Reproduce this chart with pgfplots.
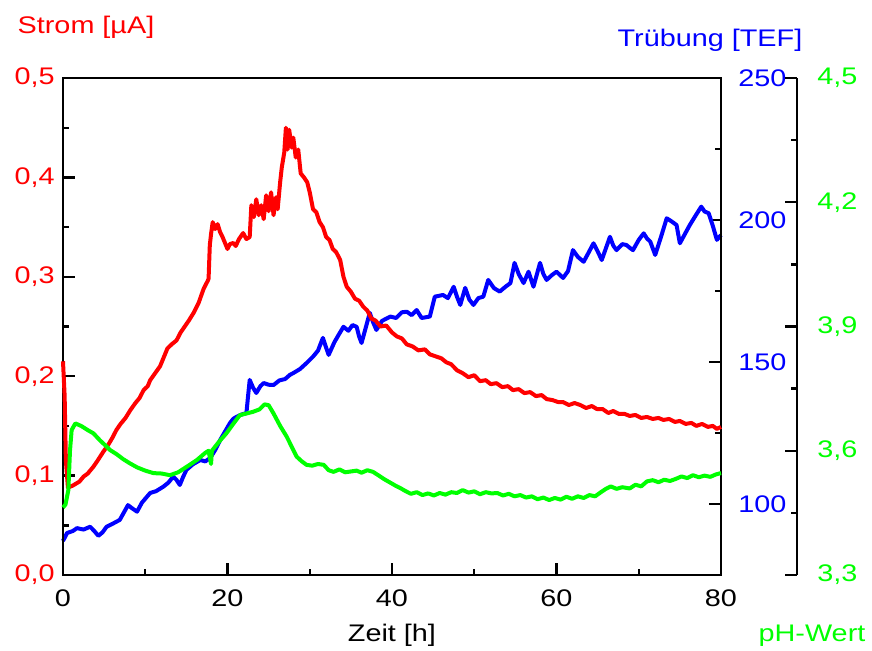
\documentclass[border=0pt]{standalone}
\usepackage{fontspec}
\setmainfont{Liberation Sans}
\usepackage{graphicx}
\usepackage{pgfplots}
\pgfplotsset{compat=1.18}

% Strom [uA] ueber Zeit [h]
\pgfplotstableread{
t I
0 0.215
0.2 0.180
0.35 0.115
0.6 0.088
1.2 0.090
2.0 0.094
2.5 0.099
3.0 0.102
3.7 0.109
4.2 0.115
4.9 0.124
5.5 0.131
6.0 0.138
6.5 0.146
7.0 0.152
7.6 0.158
8.2 0.166
8.8 0.173
9.3 0.178
9.8 0.186
10.3 0.190
10.6 0.196
11.2 0.203
11.8 0.210
12.3 0.220
12.7 0.228
13.2 0.232
13.8 0.236
14.3 0.244
14.8 0.250
15.3 0.256
15.9 0.264
16.5 0.274
17.1 0.288
17.6 0.296
17.7 0.298
17.85 0.332
18.0 0.343
18.2 0.355
18.5 0.348
18.8 0.353
19.1 0.345
19.4 0.340
19.7 0.334
20.0 0.328
20.3 0.333
20.7 0.334
21.0 0.331
21.4 0.338
21.9 0.344
22.3 0.338
22.7 0.340
22.9 0.372
23.2 0.360
23.5 0.378
23.8 0.362
24.1 0.372
24.4 0.358
24.7 0.382
25.0 0.366
25.3 0.385
25.6 0.362
25.9 0.380
26.1 0.368
26.4 0.395
26.6 0.410
26.9 0.425
27.1 0.450
27.3 0.428
27.5 0.448
27.8 0.430
28.0 0.440
28.3 0.420
28.6 0.428
28.9 0.404
29.3 0.400
29.7 0.395
30.0 0.385
30.4 0.368
30.8 0.365
31.2 0.355
31.6 0.350
32.0 0.340
32.4 0.337
32.8 0.328
33.2 0.325
33.7 0.317
34.1 0.300
34.5 0.290
35.0 0.285
35.5 0.278
36.0 0.276
36.5 0.270
37.0 0.266
37.5 0.258
38.0 0.256
38.6 0.250
39.3 0.251
40.0 0.244
40.6 0.240
41.2 0.238
41.8 0.232
42.5 0.230
43.2 0.226
44.0 0.227
44.6 0.222
45.3 0.220
46.0 0.218
46.6 0.214
47.2 0.212
47.9 0.206
48.6 0.203
49.3 0.199
50.0 0.201
50.7 0.195
51.4 0.196
52.0 0.192
52.7 0.193
53.4 0.189
54.1 0.190
54.7 0.186
55.4 0.187
56.1 0.183
56.8 0.184
57.5 0.180
58.2 0.181
58.8 0.177
59.5 0.176
60.2 0.174
60.8 0.174
61.5 0.171
62.2 0.173
62.9 0.171
63.6 0.168
64.3 0.170
64.9 0.167
65.6 0.167
66.3 0.163
66.9 0.165
67.6 0.162
68.3 0.162
68.9 0.160
69.6 0.161
70.3 0.158
71.0 0.159
71.7 0.157
72.4 0.158
73.0 0.156
73.7 0.157
74.4 0.154
75.0 0.155
75.7 0.152
76.4 0.153
77.0 0.150
77.7 0.152
78.4 0.149
79.0 0.150
79.5 0.147
80.0 0.149
}\strom

% Truebung [TEF]
\pgfplotstableread{
t B
0 87.0
0.5 89.8
1.2 90.5
1.7 91.5
2.5 91.0
3.3 92.0
3.8 90.5
4.3 88.8
4.8 90.0
5.3 92.0
6.0 93.0
6.9 94.4
7.4 97.0
7.9 99.6
8.4 98.5
9.0 97.3
9.6 100.5
10.6 103.9
11.3 104.5
12.2 106.1
12.8 107.5
13.4 109.6
13.8 108.5
14.2 106.7
14.6 109.5
15.0 112.0
15.8 114.0
16.7 115.5
17.3 115.0
17.9 116.2
18.5 119.0
19.1 122.5
19.7 125.5
20.3 128.5
20.7 130.0
21.1 130.7
21.7 131.5
22.3 132.0
22.5 138.0
22.7 143.7
23.1 141.0
23.5 139.1
24.0 141.5
24.4 142.6
25.0 142.0
25.6 141.9
26.3 143.5
27.0 144.0
27.6 145.5
28.0 146.1
28.8 147.5
29.6 149.6
30.4 151.9
31.0 154.0
31.6 158.5
32.0 155.0
32.3 152.5
33.0 157.0
33.5 159.5
34.1 162.4
34.7 161.0
35.2 163.0
35.7 162.4
36.0 159.0
36.3 156.7
36.8 162.0
37.3 167.3
37.7 164.0
38.1 161.3
38.8 164.5
39.8 166.0
40.5 165.5
41.2 167.5
41.8 167.7
42.4 166.5
43.0 168.3
43.6 165.5
44.6 166.0
45.2 173.0
46.2 173.6
46.8 172.5
47.5 176.5
47.9 173.0
48.3 170.1
48.9 176.1
49.4 172.0
49.9 170.1
50.5 172.5
51.1 173.0
51.7 178.9
52.4 176.0
53.1 174.8
53.8 176.5
54.4 177.8
54.9 184.9
55.4 181.0
56.0 177.8
56.6 181.8
57.2 176.5
58.0 184.9
58.4 181.0
58.8 178.9
59.4 180.5
60.0 181.8
60.8 179.6
61.4 182.0
62.0 189.4
62.6 187.0
63.3 185.3
63.9 188.5
64.5 191.8
65.0 189.0
65.5 185.9
66.0 190.0
66.5 194.1
66.9 191.0
67.3 189.4
68.0 191.5
68.5 191.2
69.0 190.0
69.3 189.4
70.0 193.0
70.6 195.3
71.0 193.5
71.4 192.4
72.0 187.7
72.7 194.0
73.4 200.6
74.0 199.5
74.6 198.2
75.0 191.8
75.6 195.0
76.2 198.2
76.9 201.5
77.6 204.7
78.0 203.0
78.5 202.4
79.0 198.0
79.5 193.0
80.0 194.7
}\truebung

% pH-Wert
\pgfplotstableread{
t pH
0 3.463
0.3 3.470
0.65 3.505
0.85 3.600
1.05 3.650
1.5 3.666
2.2 3.660
3.0 3.650
3.7 3.642
4.5 3.625
5.2 3.612
5.7 3.602
6.5 3.592
7.3 3.580
8.1 3.570
9.0 3.560
10.0 3.552
11.0 3.546
12.0 3.545
13.0 3.541
14.0 3.548
15.4 3.566
16.3 3.578
17.3 3.595
17.7 3.600
18.0 3.568
18.1 3.600
18.9 3.620
19.9 3.643
20.7 3.665
21.5 3.686
22.3 3.690
23.1 3.694
23.9 3.700
24.5 3.712
25.0 3.710
25.6 3.690
26.4 3.660
27.2 3.634
27.8 3.610
28.4 3.586
29.0 3.575
29.6 3.566
30.3 3.564
31.0 3.568
31.7 3.566
32.3 3.553
32.9 3.549
33.6 3.555
34.3 3.548
35.0 3.550
35.7 3.552
36.3 3.547
37.0 3.553
37.7 3.549
38.4 3.540
39.0 3.532
39.7 3.524
40.4 3.516
41.0 3.510
41.7 3.502
42.3 3.496
43.0 3.500
43.7 3.493
44.4 3.497
45.1 3.492
45.8 3.498
46.5 3.494
47.2 3.500
47.9 3.498
48.6 3.505
49.3 3.499
50.0 3.502
50.7 3.495
51.4 3.500
52.1 3.497
52.8 3.498
53.5 3.492
54.2 3.496
54.9 3.490
55.6 3.493
56.3 3.487
57.0 3.490
57.7 3.483
58.4 3.487
59.1 3.481
59.8 3.486
60.5 3.482
61.2 3.489
61.9 3.484
62.6 3.490
63.3 3.486
64.0 3.493
64.7 3.490
65.4 3.500
66.0 3.508
66.6 3.514
67.3 3.508
68.0 3.512
68.9 3.509
69.6 3.518
70.3 3.514
71.0 3.526
71.7 3.529
72.4 3.524
73.1 3.530
73.8 3.527
74.5 3.532
75.2 3.538
75.9 3.534
76.6 3.541
77.3 3.536
78.0 3.540
78.7 3.537
79.4 3.543
80.0 3.546
}\phwert

\begin{document}
\fontsize{12}{14}\selectfont
\begin{tikzpicture}
\pgfplotsset{
  every axis/.append style={
    scale only axis, width=329pt, height=248.5pt,
    at={(0,0)}, anchor=south west,
    xmin=0, xmax=80, clip=false,
    font=\fontsize{12}{14}\selectfont,
    /pgf/number format/assume math mode=true,
    /pgf/number format/use comma,
    axis line style={-, line width=1.2pt},
    tick style={black, line width=1.2pt},
    major tick length=6pt, minor tick length=3pt,
    tick align=inside,
  },
}

% Truebung (rechte Achse am Rahmen)
\begin{axis}[
  ymin=75, ymax=250,
  axis y line*=right, hide x axis,
  ytick={100,150,200,250}, minor ytick={125,175,225},
  yticklabel style={blue, xshift=4.5pt},
  yticklabel={\scalebox{1.2}[1]{\pgfmathprintnumber{\tick}}},
]
\addplot[blue, line width=2pt, line join=round] table[x=t, y=B] {\truebung};
\end{axis}

% Strom (linke Achse, Rahmen)
\begin{axis}[
  ymin=0, ymax=0.5,
  xtick={0,20,40,60,80}, minor xtick={10,30,50,70},
  ytick={0,0.1,0.2,0.3,0.4,0.5},
  minor ytick={0.05,0.15,0.25,0.35,0.45},
  xtick pos=left, ytick pos=left,
  yticklabel style={red},
  yticklabel={\scalebox{1.2}[1]{\pgfmathprintnumber[fixed, fixed zerofill, precision=1]{\tick}}},
  xticklabel={\scalebox{1.2}[1]{\pgfmathprintnumber{\tick}}},
  xticklabel style={black, yshift=-3pt},
]
\addplot[red, line width=2pt, line join=round] table[x=t, y=I] {\strom};
\end{axis}

% pH (Daten)
\begin{axis}[ymin=3.3, ymax=4.5, hide axis]
\addplot[green, line width=2pt, line join=round] table[x=t, y=pH] {\phwert};
\end{axis}

% pH (abgesetzte Achse)
\begin{axis}[
  at={(38pt,0)},
  ymin=3.3, ymax=4.5,
  axis y line*=right, hide x axis,
  ytick={3.3,3.6,3.9,4.2,4.5}, minor ytick={3.45,3.75,4.05,4.35},
  yticklabel style={green, xshift=6pt},
  yticklabel={\scalebox{1.2}[1]{\pgfmathprintnumber[fixed, fixed zerofill, precision=1]{\tick}}},
]
\end{axis}

\node[red, anchor=base] at (11.5pt,271pt) {\scalebox{1.2}[1]{Strom [µA]}};
\node[blue, anchor=base] at (323.5pt,264.5pt) {\scalebox{1.2}[1]{Trübung [TEF]}};
\node[anchor=base] at (164.5pt,-33pt) {\scalebox{1.2}[1]{Zeit [h]}};
\node[green, anchor=base] at (374.5pt,-33pt) {\scalebox{1.2}[1]{pH-Wert}};

\pgfresetboundingbox
\useasboundingbox (-31.5pt,-37.5pt) rectangle (404.5pt,287.5pt);
\end{tikzpicture}
\end{document}
